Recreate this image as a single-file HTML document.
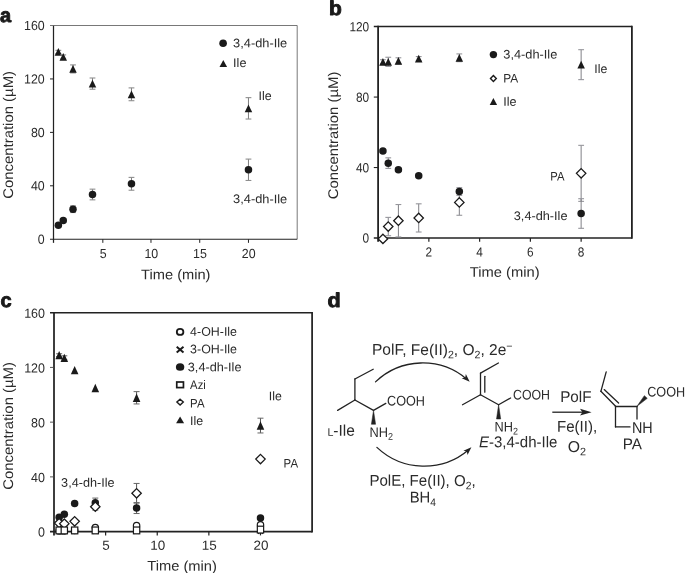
<!DOCTYPE html>
<html lang="en">
<head>
<meta charset="utf-8">
<title>Figure</title>
<style>
html,body{margin:0;padding:0;background:#fff;}
body{width:685px;height:573px;overflow:hidden;}
svg{display:block;font-family:'Liberation Sans', sans-serif;text-rendering:geometricPrecision;}
</style>
</head>
<body>
<svg width="685" height="573" viewBox="0 0 685 573">
<rect x="0" y="0" width="685" height="573" fill="#ffffff"/>
<line x1="53.50" y1="25.50" x2="297.20" y2="25.50" stroke="#555" stroke-width="0.8"/>
<line x1="297.20" y1="25.50" x2="297.20" y2="239.25" stroke="#555" stroke-width="0.8"/>
<line x1="53.50" y1="25.50" x2="53.50" y2="242.85" stroke="#222" stroke-width="1.25"/>
<line x1="50.00" y1="239.25" x2="297.20" y2="239.25" stroke="#222" stroke-width="1.2"/>
<text transform="matrix(1,0.001,0,1,37.80,243.75)" font-size="13.2" fill="#2b2b2b" textLength="6.90" lengthAdjust="spacingAndGlyphs">0</text>
<line x1="50.00" y1="185.81" x2="53.50" y2="185.81" stroke="#222" stroke-width="1.0"/>
<text transform="matrix(1,0.001,0,1,30.90,190.31)" font-size="13.2" fill="#2b2b2b" textLength="13.80" lengthAdjust="spacingAndGlyphs">40</text>
<line x1="50.00" y1="132.38" x2="53.50" y2="132.38" stroke="#222" stroke-width="1.0"/>
<text transform="matrix(1,0.001,0,1,30.90,136.88)" font-size="13.2" fill="#2b2b2b" textLength="13.80" lengthAdjust="spacingAndGlyphs">80</text>
<line x1="50.00" y1="78.94" x2="53.50" y2="78.94" stroke="#222" stroke-width="1.0"/>
<text transform="matrix(1,0.001,0,1,24.00,83.44)" font-size="13.2" fill="#2b2b2b" textLength="20.70" lengthAdjust="spacingAndGlyphs">120</text>
<line x1="50.00" y1="25.50" x2="53.50" y2="25.50" stroke="#555" stroke-width="0.8"/>
<text transform="matrix(1,0.001,0,1,24.00,30.00)" font-size="13.2" fill="#2b2b2b" textLength="20.70" lengthAdjust="spacingAndGlyphs">160</text>
<line x1="102.84" y1="239.25" x2="102.84" y2="242.85" stroke="#222" stroke-width="1.0"/>
<text transform="matrix(1,0.001,0,1,99.69,257.90)" font-size="13.2" fill="#2b2b2b" textLength="6.90" lengthAdjust="spacingAndGlyphs">5</text>
<line x1="150.98" y1="239.25" x2="150.98" y2="242.85" stroke="#222" stroke-width="1.0"/>
<text transform="matrix(1,0.001,0,1,144.38,257.90)" font-size="13.2" fill="#2b2b2b" textLength="13.80" lengthAdjust="spacingAndGlyphs">10</text>
<line x1="199.72" y1="239.25" x2="199.72" y2="242.85" stroke="#222" stroke-width="1.0"/>
<text transform="matrix(1,0.001,0,1,193.12,257.90)" font-size="13.2" fill="#2b2b2b" textLength="13.80" lengthAdjust="spacingAndGlyphs">15</text>
<line x1="248.46" y1="239.25" x2="248.46" y2="242.85" stroke="#222" stroke-width="1.0"/>
<text transform="matrix(1,0.001,0,1,241.86,257.90)" font-size="13.2" fill="#2b2b2b" textLength="13.80" lengthAdjust="spacingAndGlyphs">20</text>
<text transform="matrix(1,0.001,0,1,141.10,279.20)" font-size="14.0" fill="#2b2b2b" textLength="69.40" lengthAdjust="spacingAndGlyphs">Time (min)</text>
<text transform="translate(13.10,198.70) rotate(-90)" font-size="14.0" fill="#2b2b2b" textLength="127.7" lengthAdjust="spacingAndGlyphs">Concentration (µM)</text>
<line x1="58.37" y1="50.35" x2="58.37" y2="53.55" stroke="#666" stroke-width="0.85"/>
<line x1="55.47" y1="50.35" x2="61.27" y2="50.35" stroke="#8e8e8e" stroke-width="1.1"/>
<line x1="55.47" y1="53.55" x2="61.27" y2="53.55" stroke="#8e8e8e" stroke-width="1.1"/>
<polygon points="58.37,48.05 62.12,55.85 54.62,55.85" fill="#1a1a1a"/>
<line x1="63.25" y1="54.89" x2="63.25" y2="58.90" stroke="#666" stroke-width="0.85"/>
<line x1="60.35" y1="54.89" x2="66.15" y2="54.89" stroke="#8e8e8e" stroke-width="1.1"/>
<line x1="60.35" y1="58.90" x2="66.15" y2="58.90" stroke="#8e8e8e" stroke-width="1.1"/>
<polygon points="63.25,52.99 67.00,60.79 59.50,60.79" fill="#1a1a1a"/>
<line x1="73.00" y1="64.91" x2="73.00" y2="72.93" stroke="#666" stroke-width="0.85"/>
<line x1="70.10" y1="64.91" x2="75.90" y2="64.91" stroke="#8e8e8e" stroke-width="1.1"/>
<line x1="70.10" y1="72.93" x2="75.90" y2="72.93" stroke="#8e8e8e" stroke-width="1.1"/>
<polygon points="73.00,65.02 76.75,72.82 69.25,72.82" fill="#1a1a1a"/>
<line x1="92.49" y1="78.00" x2="92.49" y2="89.22" stroke="#666" stroke-width="0.85"/>
<line x1="89.59" y1="78.00" x2="95.39" y2="78.00" stroke="#8e8e8e" stroke-width="1.1"/>
<line x1="89.59" y1="89.22" x2="95.39" y2="89.22" stroke="#8e8e8e" stroke-width="1.1"/>
<polygon points="92.49,79.71 96.24,87.51 88.74,87.51" fill="#1a1a1a"/>
<line x1="131.48" y1="87.89" x2="131.48" y2="100.71" stroke="#666" stroke-width="0.85"/>
<line x1="128.58" y1="87.89" x2="134.38" y2="87.89" stroke="#8e8e8e" stroke-width="1.1"/>
<line x1="128.58" y1="100.71" x2="134.38" y2="100.71" stroke="#8e8e8e" stroke-width="1.1"/>
<polygon points="131.48,90.40 135.23,98.20 127.73,98.20" fill="#1a1a1a"/>
<line x1="248.46" y1="97.64" x2="248.46" y2="119.02" stroke="#666" stroke-width="0.85"/>
<line x1="245.56" y1="97.64" x2="251.36" y2="97.64" stroke="#8e8e8e" stroke-width="1.1"/>
<line x1="245.56" y1="119.02" x2="251.36" y2="119.02" stroke="#8e8e8e" stroke-width="1.1"/>
<polygon points="248.46,104.43 252.21,112.23 244.71,112.23" fill="#1a1a1a"/>
<line x1="58.37" y1="224.15" x2="58.37" y2="226.29" stroke="#666" stroke-width="0.85"/>
<line x1="55.47" y1="224.15" x2="61.27" y2="224.15" stroke="#8e8e8e" stroke-width="1.1"/>
<line x1="55.47" y1="226.29" x2="61.27" y2="226.29" stroke="#8e8e8e" stroke-width="1.1"/>
<circle cx="58.37" cy="225.22" r="3.75" fill="#1a1a1a" stroke="none" stroke-width="0"/>
<line x1="63.25" y1="219.21" x2="63.25" y2="221.88" stroke="#666" stroke-width="0.85"/>
<line x1="60.35" y1="219.21" x2="66.15" y2="219.21" stroke="#8e8e8e" stroke-width="1.1"/>
<line x1="60.35" y1="221.88" x2="66.15" y2="221.88" stroke="#8e8e8e" stroke-width="1.1"/>
<circle cx="63.25" cy="220.55" r="3.75" fill="#1a1a1a" stroke="none" stroke-width="0"/>
<line x1="73.00" y1="205.85" x2="73.00" y2="212.53" stroke="#666" stroke-width="0.85"/>
<line x1="70.10" y1="205.85" x2="75.90" y2="205.85" stroke="#8e8e8e" stroke-width="1.1"/>
<line x1="70.10" y1="212.53" x2="75.90" y2="212.53" stroke="#8e8e8e" stroke-width="1.1"/>
<circle cx="73.00" cy="209.19" r="3.75" fill="#1a1a1a" stroke="none" stroke-width="0"/>
<line x1="92.49" y1="189.15" x2="92.49" y2="199.84" stroke="#666" stroke-width="0.85"/>
<line x1="89.59" y1="189.15" x2="95.39" y2="189.15" stroke="#8e8e8e" stroke-width="1.1"/>
<line x1="89.59" y1="199.84" x2="95.39" y2="199.84" stroke="#8e8e8e" stroke-width="1.1"/>
<circle cx="92.49" cy="194.50" r="3.75" fill="#1a1a1a" stroke="none" stroke-width="0"/>
<line x1="131.48" y1="177.40" x2="131.48" y2="190.22" stroke="#666" stroke-width="0.85"/>
<line x1="128.58" y1="177.40" x2="134.38" y2="177.40" stroke="#8e8e8e" stroke-width="1.1"/>
<line x1="128.58" y1="190.22" x2="134.38" y2="190.22" stroke="#8e8e8e" stroke-width="1.1"/>
<circle cx="131.48" cy="183.81" r="3.75" fill="#1a1a1a" stroke="none" stroke-width="0"/>
<line x1="248.46" y1="159.09" x2="248.46" y2="180.47" stroke="#666" stroke-width="0.85"/>
<line x1="245.56" y1="159.09" x2="251.36" y2="159.09" stroke="#8e8e8e" stroke-width="1.1"/>
<line x1="245.56" y1="180.47" x2="251.36" y2="180.47" stroke="#8e8e8e" stroke-width="1.1"/>
<circle cx="248.46" cy="169.78" r="3.75" fill="#1a1a1a" stroke="none" stroke-width="0"/>
<circle cx="223.10" cy="43.30" r="3.8" fill="#1a1a1a" stroke="none" stroke-width="0"/>
<text transform="matrix(1,0.001,0,1,233.10,47.30)" font-size="12.4" fill="#2b2b2b" textLength="54.10" lengthAdjust="spacingAndGlyphs">3,4-dh-Ile</text>
<polygon points="223.30,59.95 227.10,67.05 219.50,67.05" fill="#1a1a1a"/>
<text transform="matrix(1,0.001,0,1,233.10,67.10)" font-size="12.4" fill="#2b2b2b" textLength="13.30" lengthAdjust="spacingAndGlyphs">Ile</text>
<text transform="matrix(1,0.001,0,1,258.50,100.00)" font-size="12.4" fill="#2b2b2b" textLength="13.10" lengthAdjust="spacingAndGlyphs">Ile</text>
<text transform="matrix(1,0.001,0,1,233.10,203.10)" font-size="12.4" fill="#2b2b2b" textLength="54.10" lengthAdjust="spacingAndGlyphs">3,4-dh-Ile</text>
<text transform="matrix(1,0.001,0,1,-0.10,21.90)" font-size="20" text-anchor="start" font-weight="bold" font-style="normal" fill="#1a1a1a" stroke="#1a1a1a" stroke-width="0.9" stroke-linejoin="round">a</text>
<line x1="378.10" y1="25.85" x2="378.10" y2="241.80" stroke="#222" stroke-width="1.8"/>
<line x1="631.90" y1="25.85" x2="631.90" y2="238.75" stroke="#222" stroke-width="1.8"/>
<line x1="373.80" y1="26.60" x2="631.90" y2="26.60" stroke="#222" stroke-width="1.5"/>
<line x1="373.80" y1="238.00" x2="631.90" y2="238.00" stroke="#222" stroke-width="1.5"/>
<line x1="373.80" y1="167.53" x2="378.10" y2="167.53" stroke="#222" stroke-width="1.1"/>
<line x1="373.80" y1="97.07" x2="378.10" y2="97.07" stroke="#222" stroke-width="1.1"/>
<text transform="matrix(1,0.001,0,1,362.60,242.60)" font-size="13.2" fill="#2b2b2b" textLength="6.60" lengthAdjust="spacingAndGlyphs">0</text>
<text transform="matrix(1,0.001,0,1,356.00,172.13)" font-size="13.2" fill="#2b2b2b" textLength="13.20" lengthAdjust="spacingAndGlyphs">40</text>
<text transform="matrix(1,0.001,0,1,356.00,101.67)" font-size="13.2" fill="#2b2b2b" textLength="13.20" lengthAdjust="spacingAndGlyphs">80</text>
<text transform="matrix(1,0.001,0,1,349.40,31.20)" font-size="13.2" fill="#2b2b2b" textLength="19.80" lengthAdjust="spacingAndGlyphs">120</text>
<line x1="428.86" y1="238.00" x2="428.86" y2="241.80" stroke="#222" stroke-width="1.2"/>
<text transform="matrix(1,0.001,0,1,425.56,256.60)" font-size="13.2" fill="#2b2b2b" textLength="6.60" lengthAdjust="spacingAndGlyphs">2</text>
<line x1="479.62" y1="238.00" x2="479.62" y2="241.80" stroke="#222" stroke-width="1.2"/>
<text transform="matrix(1,0.001,0,1,476.32,256.60)" font-size="13.2" fill="#2b2b2b" textLength="6.60" lengthAdjust="spacingAndGlyphs">4</text>
<line x1="530.38" y1="238.00" x2="530.38" y2="241.80" stroke="#222" stroke-width="1.2"/>
<text transform="matrix(1,0.001,0,1,527.08,256.60)" font-size="13.2" fill="#2b2b2b" textLength="6.60" lengthAdjust="spacingAndGlyphs">6</text>
<line x1="581.14" y1="238.00" x2="581.14" y2="241.80" stroke="#222" stroke-width="1.2"/>
<text transform="matrix(1,0.001,0,1,577.84,256.60)" font-size="13.2" fill="#2b2b2b" textLength="6.60" lengthAdjust="spacingAndGlyphs">8</text>
<text transform="matrix(1,0.001,0,1,469.80,276.70)" font-size="14.0" fill="#2b2b2b" textLength="69.80" lengthAdjust="spacingAndGlyphs">Time (min)</text>
<text transform="translate(337.50,199.35) rotate(-90)" font-size="14.0" fill="#2b2b2b" textLength="127.7" lengthAdjust="spacingAndGlyphs">Concentration (µM)</text>
<line x1="382.92" y1="59.72" x2="382.92" y2="63.95" stroke="#808086" stroke-width="1.0"/>
<line x1="380.02" y1="59.72" x2="385.82" y2="59.72" stroke="#96969c" stroke-width="1.1"/>
<line x1="380.02" y1="63.95" x2="385.82" y2="63.95" stroke="#96969c" stroke-width="1.1"/>
<polygon points="382.92,57.93 386.67,65.73 379.17,65.73" fill="#1a1a1a"/>
<line x1="388.25" y1="57.25" x2="388.25" y2="66.41" stroke="#808086" stroke-width="1.0"/>
<line x1="385.35" y1="57.25" x2="391.15" y2="57.25" stroke="#96969c" stroke-width="1.1"/>
<line x1="385.35" y1="66.41" x2="391.15" y2="66.41" stroke="#96969c" stroke-width="1.1"/>
<polygon points="388.25,57.93 392.00,65.73 384.50,65.73" fill="#1a1a1a"/>
<line x1="398.40" y1="57.78" x2="398.40" y2="64.12" stroke="#808086" stroke-width="1.0"/>
<line x1="395.50" y1="57.78" x2="401.30" y2="57.78" stroke="#96969c" stroke-width="1.1"/>
<line x1="395.50" y1="64.12" x2="401.30" y2="64.12" stroke="#96969c" stroke-width="1.1"/>
<polygon points="398.40,57.05 402.15,64.85 394.65,64.85" fill="#1a1a1a"/>
<line x1="418.71" y1="56.55" x2="418.71" y2="60.78" stroke="#808086" stroke-width="1.0"/>
<line x1="415.81" y1="56.55" x2="421.61" y2="56.55" stroke="#96969c" stroke-width="1.1"/>
<line x1="415.81" y1="60.78" x2="421.61" y2="60.78" stroke="#96969c" stroke-width="1.1"/>
<polygon points="418.71,54.76 422.46,62.56 414.96,62.56" fill="#1a1a1a"/>
<line x1="459.32" y1="53.91" x2="459.32" y2="61.66" stroke="#808086" stroke-width="1.0"/>
<line x1="456.42" y1="53.91" x2="462.22" y2="53.91" stroke="#96969c" stroke-width="1.1"/>
<line x1="456.42" y1="61.66" x2="462.22" y2="61.66" stroke="#96969c" stroke-width="1.1"/>
<polygon points="459.32,53.88 463.07,61.68 455.57,61.68" fill="#1a1a1a"/>
<line x1="581.14" y1="49.68" x2="581.14" y2="79.63" stroke="#808086" stroke-width="1.0"/>
<line x1="578.24" y1="49.68" x2="584.04" y2="49.68" stroke="#96969c" stroke-width="1.1"/>
<line x1="578.24" y1="79.63" x2="584.04" y2="79.63" stroke="#96969c" stroke-width="1.1"/>
<polygon points="581.14,60.75 584.89,68.55 577.39,68.55" fill="#1a1a1a"/>
<line x1="388.25" y1="217.39" x2="388.25" y2="235.71" stroke="#808086" stroke-width="1.0"/>
<line x1="385.35" y1="217.39" x2="391.15" y2="217.39" stroke="#96969c" stroke-width="1.1"/>
<line x1="385.35" y1="235.71" x2="391.15" y2="235.71" stroke="#96969c" stroke-width="1.1"/>
<line x1="398.40" y1="204.53" x2="398.40" y2="236.94" stroke="#808086" stroke-width="1.0"/>
<line x1="395.50" y1="204.53" x2="401.30" y2="204.53" stroke="#96969c" stroke-width="1.1"/>
<line x1="395.50" y1="236.94" x2="401.30" y2="236.94" stroke="#96969c" stroke-width="1.1"/>
<line x1="418.71" y1="203.82" x2="418.71" y2="232.01" stroke="#808086" stroke-width="1.0"/>
<line x1="415.81" y1="203.82" x2="421.61" y2="203.82" stroke="#96969c" stroke-width="1.1"/>
<line x1="415.81" y1="232.01" x2="421.61" y2="232.01" stroke="#96969c" stroke-width="1.1"/>
<line x1="459.32" y1="189.55" x2="459.32" y2="215.27" stroke="#808086" stroke-width="1.0"/>
<line x1="456.42" y1="189.55" x2="462.22" y2="189.55" stroke="#96969c" stroke-width="1.1"/>
<line x1="456.42" y1="215.27" x2="462.22" y2="215.27" stroke="#96969c" stroke-width="1.1"/>
<line x1="581.14" y1="145.34" x2="581.14" y2="201.36" stroke="#808086" stroke-width="1.0"/>
<line x1="578.24" y1="145.34" x2="584.04" y2="145.34" stroke="#96969c" stroke-width="1.1"/>
<line x1="578.24" y1="201.36" x2="584.04" y2="201.36" stroke="#96969c" stroke-width="1.1"/>
<line x1="382.92" y1="149.56" x2="382.92" y2="152.38" stroke="#808086" stroke-width="1.0"/>
<line x1="380.02" y1="149.56" x2="385.82" y2="149.56" stroke="#96969c" stroke-width="1.1"/>
<line x1="380.02" y1="152.38" x2="385.82" y2="152.38" stroke="#96969c" stroke-width="1.1"/>
<line x1="388.25" y1="157.84" x2="388.25" y2="168.41" stroke="#808086" stroke-width="1.0"/>
<line x1="385.35" y1="157.84" x2="391.15" y2="157.84" stroke="#96969c" stroke-width="1.1"/>
<line x1="385.35" y1="168.41" x2="391.15" y2="168.41" stroke="#96969c" stroke-width="1.1"/>
<line x1="398.40" y1="167.89" x2="398.40" y2="171.41" stroke="#808086" stroke-width="1.0"/>
<line x1="395.50" y1="167.89" x2="401.30" y2="167.89" stroke="#96969c" stroke-width="1.1"/>
<line x1="395.50" y1="171.41" x2="401.30" y2="171.41" stroke="#96969c" stroke-width="1.1"/>
<line x1="418.71" y1="173.88" x2="418.71" y2="177.40" stroke="#808086" stroke-width="1.0"/>
<line x1="415.81" y1="173.88" x2="421.61" y2="173.88" stroke="#96969c" stroke-width="1.1"/>
<line x1="415.81" y1="177.40" x2="421.61" y2="177.40" stroke="#96969c" stroke-width="1.1"/>
<line x1="459.32" y1="187.62" x2="459.32" y2="195.37" stroke="#808086" stroke-width="1.0"/>
<line x1="456.42" y1="187.62" x2="462.22" y2="187.62" stroke="#96969c" stroke-width="1.1"/>
<line x1="456.42" y1="195.37" x2="462.22" y2="195.37" stroke="#96969c" stroke-width="1.1"/>
<line x1="581.14" y1="198.71" x2="581.14" y2="228.31" stroke="#808086" stroke-width="1.0"/>
<line x1="578.24" y1="198.71" x2="584.04" y2="198.71" stroke="#96969c" stroke-width="1.1"/>
<line x1="578.24" y1="228.31" x2="584.04" y2="228.31" stroke="#96969c" stroke-width="1.1"/>
<circle cx="382.92" cy="150.97" r="3.75" fill="#1a1a1a" stroke="none" stroke-width="0"/>
<circle cx="388.25" cy="163.13" r="3.75" fill="#1a1a1a" stroke="none" stroke-width="0"/>
<circle cx="398.40" cy="169.65" r="3.75" fill="#1a1a1a" stroke="none" stroke-width="0"/>
<circle cx="418.71" cy="175.64" r="3.75" fill="#1a1a1a" stroke="none" stroke-width="0"/>
<circle cx="459.32" cy="191.49" r="3.75" fill="#1a1a1a" stroke="none" stroke-width="0"/>
<circle cx="581.14" cy="213.51" r="3.75" fill="#1a1a1a" stroke="none" stroke-width="0"/>
<polygon points="382.92,234.18 387.62,238.88 382.92,243.58 378.22,238.88" fill="#fff" stroke="#1a1a1a" stroke-width="1.3" stroke-linejoin="miter"/>
<polygon points="388.25,221.85 392.95,226.55 388.25,231.25 383.55,226.55" fill="#fff" stroke="#1a1a1a" stroke-width="1.3" stroke-linejoin="miter"/>
<polygon points="398.40,216.04 403.10,220.74 398.40,225.44 393.70,220.74" fill="#fff" stroke="#1a1a1a" stroke-width="1.3" stroke-linejoin="miter"/>
<polygon points="418.71,213.22 423.41,217.92 418.71,222.62 414.01,217.92" fill="#fff" stroke="#1a1a1a" stroke-width="1.3" stroke-linejoin="miter"/>
<polygon points="459.32,197.71 464.02,202.41 459.32,207.11 454.62,202.41" fill="#fff" stroke="#1a1a1a" stroke-width="1.3" stroke-linejoin="miter"/>
<polygon points="581.14,168.65 585.84,173.35 581.14,178.05 576.44,173.35" fill="#fff" stroke="#1a1a1a" stroke-width="1.3" stroke-linejoin="miter"/>
<circle cx="493.40" cy="54.60" r="3.7" fill="#1a1a1a" stroke="none" stroke-width="0"/>
<text transform="matrix(1,0.001,0,1,503.30,58.40)" font-size="12.4" fill="#2b2b2b" textLength="54.00" lengthAdjust="spacingAndGlyphs">3,4-dh-Ile</text>
<polygon points="493.40,75.60 496.30,78.50 493.40,81.40 490.50,78.50" fill="#fff" stroke="#1a1a1a" stroke-width="1.4" stroke-linejoin="miter"/>
<text transform="matrix(1,0.001,0,1,503.30,82.50)" font-size="12.4" fill="#2b2b2b" textLength="15.00" lengthAdjust="spacingAndGlyphs">PA</text>
<polygon points="493.40,98.10 497.10,105.10 489.70,105.10" fill="#1a1a1a"/>
<text transform="matrix(1,0.001,0,1,503.30,105.70)" font-size="12.4" fill="#2b2b2b" textLength="13.30" lengthAdjust="spacingAndGlyphs">Ile</text>
<text transform="matrix(1,0.001,0,1,594.30,72.90)" font-size="12.4" fill="#2b2b2b" textLength="13.00" lengthAdjust="spacingAndGlyphs">Ile</text>
<text transform="matrix(1,0.001,0,1,550.30,180.50)" font-size="12.4" fill="#2b2b2b" textLength="14.20" lengthAdjust="spacingAndGlyphs">PA</text>
<text transform="matrix(1,0.001,0,1,513.80,219.90)" font-size="12.4" fill="#2b2b2b" textLength="53.70" lengthAdjust="spacingAndGlyphs">3,4-dh-Ile</text>
<text transform="matrix(1,0.001,0,1,328.90,15.00)" font-size="20" text-anchor="start" font-weight="bold" font-style="normal" fill="#1a1a1a" stroke="#1a1a1a" stroke-width="0.9" stroke-linejoin="round" textLength="12.8" lengthAdjust="spacingAndGlyphs">b</text>
<line x1="54.00" y1="311.90" x2="54.00" y2="535.40" stroke="#222" stroke-width="1.75"/>
<line x1="312.10" y1="311.90" x2="312.10" y2="532.40" stroke="#222" stroke-width="1.75"/>
<line x1="50.00" y1="312.70" x2="312.10" y2="312.70" stroke="#222" stroke-width="1.65"/>
<line x1="50.00" y1="531.60" x2="312.10" y2="531.60" stroke="#222" stroke-width="1.65"/>
<line x1="50.00" y1="476.88" x2="54.00" y2="476.88" stroke="#444" stroke-width="0.9"/>
<line x1="50.00" y1="422.15" x2="54.00" y2="422.15" stroke="#444" stroke-width="0.9"/>
<line x1="50.00" y1="367.42" x2="54.00" y2="367.42" stroke="#444" stroke-width="0.9"/>
<text transform="matrix(1,0.001,0,1,38.05,536.60)" font-size="13.2" fill="#2b2b2b" textLength="6.95" lengthAdjust="spacingAndGlyphs">0</text>
<text transform="matrix(1,0.001,0,1,31.10,481.88)" font-size="13.2" fill="#2b2b2b" textLength="13.90" lengthAdjust="spacingAndGlyphs">40</text>
<text transform="matrix(1,0.001,0,1,31.10,427.15)" font-size="13.2" fill="#2b2b2b" textLength="13.90" lengthAdjust="spacingAndGlyphs">80</text>
<text transform="matrix(1,0.001,0,1,24.15,372.42)" font-size="13.2" fill="#2b2b2b" textLength="20.85" lengthAdjust="spacingAndGlyphs">120</text>
<text transform="matrix(1,0.001,0,1,24.15,317.70)" font-size="13.2" fill="#2b2b2b" textLength="20.85" lengthAdjust="spacingAndGlyphs">160</text>
<line x1="105.62" y1="531.60" x2="105.62" y2="535.40" stroke="#222" stroke-width="1.2"/>
<text transform="matrix(1,0.001,0,1,102.27,549.70)" font-size="13.2" fill="#2b2b2b" textLength="7.50" lengthAdjust="spacingAndGlyphs">5</text>
<line x1="157.24" y1="531.60" x2="157.24" y2="535.40" stroke="#222" stroke-width="1.2"/>
<text transform="matrix(1,0.001,0,1,150.14,549.70)" font-size="13.2" fill="#2b2b2b" textLength="15.00" lengthAdjust="spacingAndGlyphs">10</text>
<line x1="208.86" y1="531.60" x2="208.86" y2="535.40" stroke="#222" stroke-width="1.2"/>
<text transform="matrix(1,0.001,0,1,201.76,549.70)" font-size="13.2" fill="#2b2b2b" textLength="15.00" lengthAdjust="spacingAndGlyphs">15</text>
<line x1="260.48" y1="531.60" x2="260.48" y2="535.40" stroke="#222" stroke-width="1.2"/>
<text transform="matrix(1,0.001,0,1,253.38,549.70)" font-size="13.2" fill="#2b2b2b" textLength="15.00" lengthAdjust="spacingAndGlyphs">20</text>
<text transform="matrix(1,0.001,0,1,147.20,570.60)" font-size="14.0" fill="#2b2b2b" textLength="69.70" lengthAdjust="spacingAndGlyphs">Time (min)</text>
<text transform="translate(13.10,489.75) rotate(-90)" font-size="14.0" fill="#2b2b2b" textLength="127.7" lengthAdjust="spacingAndGlyphs">Concentration (µM)</text>
<line x1="59.16" y1="353.74" x2="59.16" y2="356.48" stroke="#555" stroke-width="1.0"/>
<line x1="56.16" y1="353.74" x2="62.16" y2="353.74" stroke="#666" stroke-width="1.0"/>
<line x1="56.16" y1="356.48" x2="62.16" y2="356.48" stroke="#666" stroke-width="1.0"/>
<polygon points="59.16,350.91 62.96,359.31 55.36,359.31" fill="#1a1a1a"/>
<line x1="64.32" y1="355.80" x2="64.32" y2="359.90" stroke="#555" stroke-width="1.0"/>
<line x1="61.32" y1="355.80" x2="67.32" y2="355.80" stroke="#666" stroke-width="1.0"/>
<line x1="61.32" y1="359.90" x2="67.32" y2="359.90" stroke="#666" stroke-width="1.0"/>
<polygon points="64.32,353.65 68.12,362.05 60.52,362.05" fill="#1a1a1a"/>
<polygon points="74.65,365.96 78.45,374.36 70.85,374.36" fill="#1a1a1a"/>
<polygon points="95.30,383.75 99.10,392.15 91.50,392.15" fill="#1a1a1a"/>
<line x1="136.59" y1="391.64" x2="136.59" y2="403.95" stroke="#555" stroke-width="1.0"/>
<line x1="133.59" y1="391.64" x2="139.59" y2="391.64" stroke="#666" stroke-width="1.0"/>
<line x1="133.59" y1="403.95" x2="139.59" y2="403.95" stroke="#666" stroke-width="1.0"/>
<polygon points="136.59,393.60 140.39,402.00 132.79,402.00" fill="#1a1a1a"/>
<line x1="260.48" y1="418.18" x2="260.48" y2="432.96" stroke="#555" stroke-width="1.0"/>
<line x1="257.48" y1="418.18" x2="263.48" y2="418.18" stroke="#666" stroke-width="1.0"/>
<line x1="257.48" y1="432.96" x2="263.48" y2="432.96" stroke="#666" stroke-width="1.0"/>
<polygon points="260.48,421.37 264.28,429.77 256.68,429.77" fill="#1a1a1a"/>
<line x1="95.30" y1="503.28" x2="95.30" y2="510.12" stroke="#555" stroke-width="1.0"/>
<line x1="92.30" y1="503.28" x2="98.30" y2="503.28" stroke="#666" stroke-width="1.0"/>
<line x1="92.30" y1="510.12" x2="98.30" y2="510.12" stroke="#666" stroke-width="1.0"/>
<line x1="136.59" y1="483.44" x2="136.59" y2="503.14" stroke="#555" stroke-width="1.0"/>
<line x1="133.59" y1="483.44" x2="139.59" y2="483.44" stroke="#666" stroke-width="1.0"/>
<line x1="133.59" y1="503.14" x2="139.59" y2="503.14" stroke="#666" stroke-width="1.0"/>
<line x1="59.16" y1="516.14" x2="59.16" y2="518.33" stroke="#555" stroke-width="1.0"/>
<line x1="56.16" y1="516.14" x2="62.16" y2="516.14" stroke="#666" stroke-width="1.0"/>
<line x1="56.16" y1="518.33" x2="62.16" y2="518.33" stroke="#666" stroke-width="1.0"/>
<line x1="64.32" y1="513.13" x2="64.32" y2="515.32" stroke="#555" stroke-width="1.0"/>
<line x1="61.32" y1="513.13" x2="67.32" y2="513.13" stroke="#666" stroke-width="1.0"/>
<line x1="61.32" y1="515.32" x2="67.32" y2="515.32" stroke="#666" stroke-width="1.0"/>
<line x1="74.65" y1="502.19" x2="74.65" y2="504.92" stroke="#555" stroke-width="1.0"/>
<line x1="71.65" y1="502.19" x2="77.65" y2="502.19" stroke="#666" stroke-width="1.0"/>
<line x1="71.65" y1="504.92" x2="77.65" y2="504.92" stroke="#666" stroke-width="1.0"/>
<line x1="95.30" y1="498.08" x2="95.30" y2="507.66" stroke="#555" stroke-width="1.0"/>
<line x1="92.30" y1="498.08" x2="98.30" y2="498.08" stroke="#666" stroke-width="1.0"/>
<line x1="92.30" y1="507.66" x2="98.30" y2="507.66" stroke="#666" stroke-width="1.0"/>
<line x1="136.59" y1="502.60" x2="136.59" y2="513.54" stroke="#555" stroke-width="1.0"/>
<line x1="133.59" y1="502.60" x2="139.59" y2="502.60" stroke="#666" stroke-width="1.0"/>
<line x1="133.59" y1="513.54" x2="139.59" y2="513.54" stroke="#666" stroke-width="1.0"/>
<line x1="260.48" y1="516.69" x2="260.48" y2="519.42" stroke="#555" stroke-width="1.0"/>
<line x1="257.48" y1="516.69" x2="263.48" y2="516.69" stroke="#666" stroke-width="1.0"/>
<line x1="257.48" y1="519.42" x2="263.48" y2="519.42" stroke="#666" stroke-width="1.0"/>
<line x1="56.86" y1="529.30" x2="61.46" y2="533.90" stroke="#1a1a1a" stroke-width="1.2"/>
<line x1="56.86" y1="533.90" x2="61.46" y2="529.30" stroke="#1a1a1a" stroke-width="1.2"/>
<line x1="62.02" y1="529.30" x2="66.62" y2="533.90" stroke="#1a1a1a" stroke-width="1.2"/>
<line x1="62.02" y1="533.90" x2="66.62" y2="529.30" stroke="#1a1a1a" stroke-width="1.2"/>
<line x1="72.35" y1="529.30" x2="76.95" y2="533.90" stroke="#1a1a1a" stroke-width="1.2"/>
<line x1="72.35" y1="533.90" x2="76.95" y2="529.30" stroke="#1a1a1a" stroke-width="1.2"/>
<line x1="93.00" y1="529.30" x2="97.60" y2="533.90" stroke="#1a1a1a" stroke-width="1.2"/>
<line x1="93.00" y1="533.90" x2="97.60" y2="529.30" stroke="#1a1a1a" stroke-width="1.2"/>
<line x1="134.29" y1="529.30" x2="138.89" y2="533.90" stroke="#1a1a1a" stroke-width="1.2"/>
<line x1="134.29" y1="533.90" x2="138.89" y2="529.30" stroke="#1a1a1a" stroke-width="1.2"/>
<line x1="258.18" y1="529.30" x2="262.78" y2="533.90" stroke="#1a1a1a" stroke-width="1.2"/>
<line x1="258.18" y1="533.90" x2="262.78" y2="529.30" stroke="#1a1a1a" stroke-width="1.2"/>
<circle cx="59.16" cy="530.92" r="3.2" fill="#fff" stroke="#1a1a1a" stroke-width="1.2"/>
<circle cx="64.32" cy="530.92" r="3.2" fill="#fff" stroke="#1a1a1a" stroke-width="1.2"/>
<circle cx="74.65" cy="530.51" r="3.2" fill="#fff" stroke="#1a1a1a" stroke-width="1.2"/>
<circle cx="95.30" cy="527.50" r="3.2" fill="#fff" stroke="#1a1a1a" stroke-width="1.2"/>
<circle cx="136.59" cy="525.58" r="3.2" fill="#fff" stroke="#1a1a1a" stroke-width="1.2"/>
<circle cx="260.48" cy="524.76" r="3.2" fill="#fff" stroke="#1a1a1a" stroke-width="1.2"/>
<circle cx="59.16" cy="517.23" r="3.75" fill="#1a1a1a" stroke="none" stroke-width="0"/>
<circle cx="64.32" cy="514.22" r="3.75" fill="#1a1a1a" stroke="none" stroke-width="0"/>
<circle cx="74.65" cy="503.55" r="3.75" fill="#1a1a1a" stroke="none" stroke-width="0"/>
<circle cx="95.30" cy="502.87" r="3.75" fill="#1a1a1a" stroke="none" stroke-width="0"/>
<circle cx="136.59" cy="508.07" r="3.75" fill="#1a1a1a" stroke="none" stroke-width="0"/>
<circle cx="260.48" cy="518.06" r="3.75" fill="#1a1a1a" stroke="none" stroke-width="0"/>
<polygon points="59.16,518.42 63.86,523.12 59.16,527.82 54.46,523.12" fill="#fff" stroke="#1a1a1a" stroke-width="1.3" stroke-linejoin="miter"/>
<polygon points="64.32,518.96 69.02,523.66 64.32,528.36 59.62,523.66" fill="#fff" stroke="#1a1a1a" stroke-width="1.3" stroke-linejoin="miter"/>
<polygon points="74.65,516.64 79.35,521.34 74.65,526.04 69.95,521.34" fill="#fff" stroke="#1a1a1a" stroke-width="1.3" stroke-linejoin="miter"/>
<polygon points="95.30,502.00 100.00,506.70 95.30,511.40 90.60,506.70" fill="#fff" stroke="#1a1a1a" stroke-width="1.3" stroke-linejoin="miter"/>
<polygon points="136.59,488.59 141.29,493.29 136.59,497.99 131.89,493.29" fill="#fff" stroke="#1a1a1a" stroke-width="1.3" stroke-linejoin="miter"/>
<polygon points="260.48,454.39 265.18,459.09 260.48,463.79 255.78,459.09" fill="#fff" stroke="#1a1a1a" stroke-width="1.3" stroke-linejoin="miter"/>
<rect x="56.01" y="527.03" width="6.3" height="6.8" fill="#fff" stroke="#1a1a1a" stroke-width="1.2"/>
<rect x="61.17" y="527.03" width="6.3" height="6.8" fill="#fff" stroke="#1a1a1a" stroke-width="1.2"/>
<rect x="71.50" y="527.03" width="6.3" height="6.8" fill="#fff" stroke="#1a1a1a" stroke-width="1.2"/>
<rect x="92.15" y="527.03" width="6.3" height="6.8" fill="#fff" stroke="#1a1a1a" stroke-width="1.2"/>
<rect x="133.44" y="527.03" width="6.3" height="6.8" fill="#fff" stroke="#1a1a1a" stroke-width="1.2"/>
<rect x="257.33" y="526.21" width="6.3" height="6.8" fill="#fff" stroke="#1a1a1a" stroke-width="1.2"/>
<ellipse cx="180.1" cy="331.9" rx="3.3" ry="3.0" fill="#fff" stroke="#1a1a1a" stroke-width="1.8"/>
<text transform="matrix(1,0.001,0,1,190.10,335.70)" font-size="12.4" fill="#2b2b2b" textLength="46.90" lengthAdjust="spacingAndGlyphs">4-OH-Ile</text>
<line x1="176.70" y1="346.80" x2="183.50" y2="352.60" stroke="#1a1a1a" stroke-width="2.0"/>
<line x1="176.70" y1="352.60" x2="183.50" y2="346.80" stroke="#1a1a1a" stroke-width="2.0"/>
<text transform="matrix(1,0.001,0,1,190.10,353.20)" font-size="12.4" fill="#2b2b2b" textLength="46.90" lengthAdjust="spacingAndGlyphs">3-OH-Ile</text>
<ellipse cx="180.1" cy="367.0" rx="4.2" ry="3.85" fill="#1a1a1a"/>
<text transform="matrix(1,0.001,0,1,187.80,371.20)" font-size="12.4" fill="#2b2b2b" textLength="53.70" lengthAdjust="spacingAndGlyphs">3,4-dh-Ile</text>
<rect x="176.75" y="382.00" width="6.7" height="5.6" fill="#fff" stroke="#1a1a1a" stroke-width="1.7"/>
<text transform="matrix(1,0.001,0,1,190.10,388.90)" font-size="12.4" fill="#2b2b2b" textLength="15.70" lengthAdjust="spacingAndGlyphs">Azi</text>
<polygon points="180.1,399.15 183.30,402.05 180.1,404.95 176.90,402.05" fill="#fff" stroke="#1a1a1a" stroke-width="1.4"/>
<text transform="matrix(1,0.001,0,1,190.10,407.40)" font-size="12.4" fill="#2b2b2b" textLength="14.40" lengthAdjust="spacingAndGlyphs">PA</text>
<polygon points="180.10,416.50 184.10,423.30 176.10,423.30" fill="#1a1a1a"/>
<text transform="matrix(1,0.001,0,1,190.10,424.90)" font-size="12.4" fill="#2b2b2b" textLength="13.10" lengthAdjust="spacingAndGlyphs">Ile</text>
<text transform="matrix(1,0.001,0,1,268.80,400.20)" font-size="12.4" fill="#2b2b2b" textLength="13.00" lengthAdjust="spacingAndGlyphs">Ile</text>
<text transform="matrix(1,0.001,0,1,283.60,467.50)" font-size="12.4" fill="#2b2b2b" textLength="14.40" lengthAdjust="spacingAndGlyphs">PA</text>
<text transform="matrix(1,0.001,0,1,61.10,486.70)" font-size="12.4" fill="#2b2b2b" textLength="53.40" lengthAdjust="spacingAndGlyphs">3,4-dh-Ile</text>
<text transform="matrix(1,0.001,0,1,0.40,307.10)" font-size="20" text-anchor="start" font-weight="bold" font-style="normal" fill="#1a1a1a" stroke="#1a1a1a" stroke-width="0.9" stroke-linejoin="round">c</text>
<text transform="matrix(1,0.001,0,1,372.00,354.85)" font-size="15.7" fill="#2b2b2b" textLength="140.60" lengthAdjust="spacingAndGlyphs">PolF, Fe(II)<tspan font-size="10.8" dy="3.3">2</tspan><tspan dy="-3.3">, O</tspan><tspan font-size="10.8" dy="3.3">2</tspan><tspan dy="-3.3">, 2e</tspan><tspan font-size="10.8" dy="-5.2">−</tspan></text>
<line x1="373.20" y1="369.20" x2="354.90" y2="379.00" stroke="#222" stroke-width="1.3" stroke-linecap="round"/>
<line x1="354.90" y1="379.00" x2="354.90" y2="400.00" stroke="#222" stroke-width="1.3" stroke-linecap="round"/>
<line x1="354.90" y1="400.00" x2="337.60" y2="410.40" stroke="#222" stroke-width="1.3" stroke-linecap="round"/>
<line x1="354.90" y1="400.00" x2="373.50" y2="410.40" stroke="#222" stroke-width="1.3" stroke-linecap="round"/>
<line x1="373.50" y1="410.40" x2="385.80" y2="403.40" stroke="#222" stroke-width="1.3" stroke-linecap="round"/>
<polygon points="373.50,410.40 371.40,424.30 375.60,424.30" fill="#222" stroke="#222" stroke-width="0.5" stroke-linejoin="round"/>
<text transform="matrix(1,0.001,0,1,387.00,405.60)" font-size="13.9" fill="#2b2b2b" textLength="38.00" lengthAdjust="spacingAndGlyphs">COOH</text>
<text transform="matrix(1,0.001,0,1,369.50,436.90)" font-size="13.9" fill="#2b2b2b" textLength="23.50" lengthAdjust="spacingAndGlyphs">NH<tspan font-size="9.8" dy="2.9">2</tspan></text>
<text transform="matrix(1,0.001,0,1,327.40,435.70)" font-size="15.7" fill="#2b2b2b" textLength="27.50" lengthAdjust="spacingAndGlyphs"><tspan font-size="10.8">L</tspan>-Ile</text>
<path d="M375.50,381.90 A68.14,68.14 0 0 1 466.70,379.15" fill="none" stroke="#222" stroke-width="1.3" stroke-linecap="round"/>
<polygon points="469.70,381.80 461.70,378.30 465.22,377.51 465.85,373.96" fill="#222"/>
<path d="M376.90,447.40 A68.78,68.78 0 0 0 468.44,449.99" fill="none" stroke="#222" stroke-width="1.3" stroke-linecap="round"/>
<polygon points="471.40,447.30 467.50,455.11 466.89,451.56 463.38,450.75" fill="#222"/>
<text transform="matrix(1,0.001,0,1,369.40,485.80)" font-size="15.7" fill="#2b2b2b" textLength="106.30" lengthAdjust="spacingAndGlyphs">PolE, Fe(II), O<tspan font-size="10.8" dy="3.3">2</tspan><tspan dy="-3.3">,</tspan></text>
<text transform="matrix(1,0.001,0,1,409.70,502.60)" font-size="15.7" fill="#2b2b2b" textLength="26.30" lengthAdjust="spacingAndGlyphs">BH<tspan font-size="10.8" dy="3.3">4</tspan></text>
<line x1="498.40" y1="363.00" x2="480.50" y2="373.10" stroke="#222" stroke-width="1.3" stroke-linecap="round"/>
<line x1="480.50" y1="373.10" x2="480.50" y2="394.80" stroke="#222" stroke-width="1.3" stroke-linecap="round"/>
<line x1="484.80" y1="376.30" x2="484.80" y2="392.20" stroke="#222" stroke-width="1.3" stroke-linecap="round"/>
<line x1="480.50" y1="394.80" x2="462.50" y2="404.70" stroke="#222" stroke-width="1.3" stroke-linecap="round"/>
<line x1="480.50" y1="394.80" x2="498.60" y2="404.80" stroke="#222" stroke-width="1.3" stroke-linecap="round"/>
<line x1="498.60" y1="404.80" x2="510.60" y2="398.00" stroke="#222" stroke-width="1.3" stroke-linecap="round"/>
<polygon points="498.60,404.80 496.50,419.00 500.70,419.00" fill="#222" stroke="#222" stroke-width="0.5" stroke-linejoin="round"/>
<text transform="matrix(1,0.001,0,1,513.00,399.50)" font-size="13.9" fill="#2b2b2b" textLength="37.00" lengthAdjust="spacingAndGlyphs">COOH</text>
<text transform="matrix(1,0.001,0,1,494.60,431.50)" font-size="13.9" fill="#2b2b2b" textLength="23.40" lengthAdjust="spacingAndGlyphs">NH<tspan font-size="9.8" dy="2.9">2</tspan></text>
<text transform="matrix(1,0.001,0,1,479.00,447.20)" font-size="15.7" fill="#2b2b2b" textLength="78.40" lengthAdjust="spacingAndGlyphs"><tspan font-style="italic">E</tspan>-3,4-dh-Ile</text>
<line x1="552.30" y1="412.20" x2="583.00" y2="412.20" stroke="#222" stroke-width="1.3"/>
<polygon points="591.60,412.20 580.00,415.60 582.40,412.20 580.00,408.80" fill="#222"/>
<text transform="matrix(1,0.001,0,1,560.20,402.00)" font-size="15.7" fill="#2b2b2b" textLength="31.30" lengthAdjust="spacingAndGlyphs">PolF</text>
<text transform="matrix(1,0.001,0,1,557.00,431.80)" font-size="15.7" fill="#2b2b2b" textLength="40.10" lengthAdjust="spacingAndGlyphs">Fe(II),</text>
<text transform="matrix(1,0.001,0,1,567.80,452.00)" font-size="15.7" fill="#2b2b2b" textLength="18.30" lengthAdjust="spacingAndGlyphs">O<tspan font-size="10.8" dy="3.3">2</tspan></text>
<line x1="606.20" y1="371.80" x2="600.90" y2="391.30" stroke="#222" stroke-width="1.3" stroke-linecap="round"/>
<line x1="600.90" y1="391.30" x2="615.60" y2="406.30" stroke="#222" stroke-width="1.3" stroke-linecap="round"/>
<line x1="604.20" y1="389.60" x2="618.60" y2="403.00" stroke="#222" stroke-width="1.3" stroke-linecap="round"/>
<line x1="615.50" y1="406.50" x2="637.00" y2="406.50" stroke="#222" stroke-width="1.3" stroke-linecap="round"/>
<line x1="615.50" y1="406.50" x2="615.50" y2="426.90" stroke="#222" stroke-width="1.3" stroke-linecap="round"/>
<line x1="615.50" y1="426.90" x2="630.00" y2="426.90" stroke="#222" stroke-width="1.3" stroke-linecap="round"/>
<line x1="637.00" y1="406.50" x2="637.00" y2="419.00" stroke="#222" stroke-width="1.3" stroke-linecap="round"/>
<polygon points="637.00,406.30 647.25,398.37 644.35,395.63" fill="#222" stroke="#222" stroke-width="0.5" stroke-linejoin="round"/>
<text transform="matrix(1,0.001,0,1,647.20,396.60)" font-size="13.9" fill="#2b2b2b" textLength="38.00" lengthAdjust="spacingAndGlyphs">COOH</text>
<text transform="matrix(1,0.001,0,1,631.90,432.90)" font-size="15.7" fill="#2b2b2b" textLength="20.80" lengthAdjust="spacingAndGlyphs">NH</text>
<text transform="matrix(1,0.001,0,1,622.80,449.20)" font-size="15.7" fill="#2b2b2b" textLength="19.20" lengthAdjust="spacingAndGlyphs">PA</text>
<text transform="matrix(1,0.001,0,1,327.40,307.10)" font-size="20" text-anchor="start" font-weight="bold" font-style="normal" fill="#1a1a1a" stroke="#1a1a1a" stroke-width="0.9" stroke-linejoin="round" textLength="13.2" lengthAdjust="spacingAndGlyphs">d</text>
</svg>
</body>
</html>
